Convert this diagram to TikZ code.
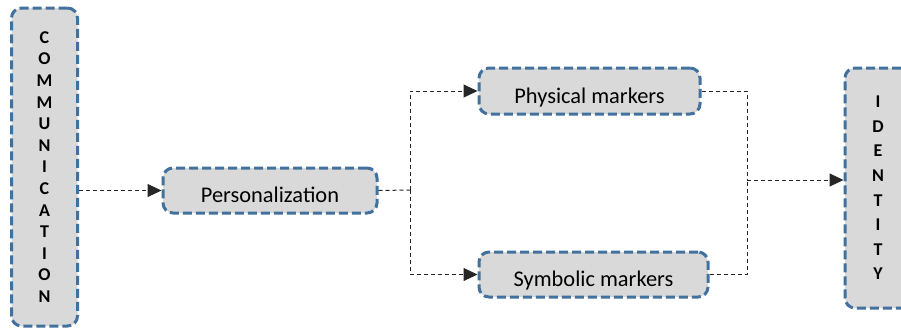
\documentclass[tikz,border=0pt]{standalone}
\usepackage{fontspec}
\setmainfont{Carlito}
\usetikzlibrary{arrows.meta}

\definecolor{boxblue}{HTML}{41719C}
\definecolor{boxgray}{HTML}{D9D9D9}

\tikzset{
  stage/.style={draw=boxblue, fill=boxgray, line width=1.5pt, dash pattern=on 4.5pt off 2pt,
    rounded corners=5pt, inner sep=0pt, font=\fontsize{11.2}{13}\selectfont},
  lowtext/.style={text height=13.5pt, text depth=2pt},
  tall/.style={stage, minimum width=33pt, font=\fontsize{9}{10.8}\selectfont\bfseries, align=center},
  link/.style={draw=black!85, line width=0.5pt, dash pattern=on 2pt off 1.5pt},
  arrow/.style={link, -{Triangle[length=7pt,width=6.5pt]}}
}

\begin{document}
\begin{tikzpicture}[x=0.5pt,y=-0.5pt]
    \useasboundingbox (0,0) rectangle (901,329);

    \node[tall, minimum height=159pt] (comm) at (44.5,167) {C\\O\\M\\M\\U\\N\\I\\C\\A\\T\\I\\O\\N};
    \node[stage, lowtext, minimum width=107pt, minimum height=22.5pt] (pers) at (270,190.5) {Personalization};
    \node[stage, lowtext, text height=14.5pt, minimum width=110.5pt, minimum height=23pt] (phys) at (589.5,91) {Physical markers};
    \node[stage, lowtext, minimum width=114.5pt, minimum height=22.5pt] (symb) at (593.5,274.5) {Symbolic markers};
    \node[tall, minimum height=120pt, font=\fontsize{9}{12.3}\selectfont\bfseries] (ident) at (878,188) {I\\D\\E\\N\\T\\I\\T\\Y};

    \coordinate (split) at (410,190); % branch point after personalization
    \coordinate (join) at (747,180); % merge point before identity

    \draw[arrow] (comm.east |- pers.west) -- (pers.west);
    \draw[link] (pers.east) -- (split);
    \draw[arrow] (split) |- (phys.west); % upper branch
    \draw[arrow] (split) |- (symb.west); % lower branch
    \draw[link] (phys.east) -| (join);
    \draw[link] (symb.east) -| (join);
    \draw[arrow] (join) -- (join -| ident.west);
\end{tikzpicture}
\end{document}
